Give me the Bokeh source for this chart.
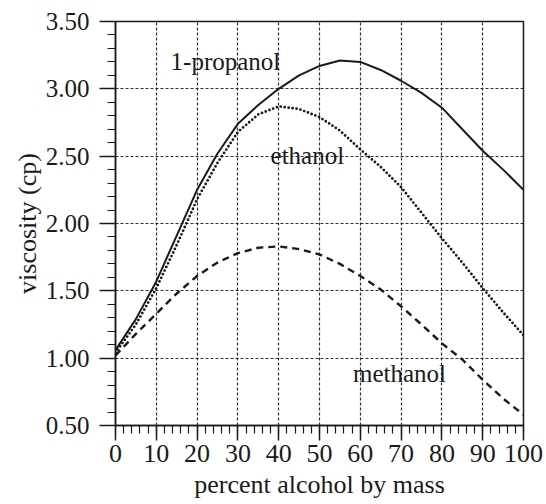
from bokeh.plotting import figure
from bokeh.models import FixedTicker, NumeralTickFormatter, Range1d
from bokeh.core.properties import value
from bokeh.embed import file_html
from bokeh.resources import INLINE

# ---- data ----
pct_alcohol = [0, 5, 10, 15, 20, 25, 30, 35, 40, 45, 50, 55, 60, 65, 70, 75, 80, 85, 90, 95, 100]
propanol = [1.06, 1.29, 1.57, 1.91, 2.25, 2.52, 2.74, 2.88, 3.00, 3.10, 3.17, 3.21, 3.20, 3.14, 3.06, 2.97, 2.86, 2.70, 2.54, 2.40, 2.25]
ethanol = [1.04, 1.25, 1.52, 1.84, 2.18, 2.45, 2.68, 2.81, 2.87, 2.85, 2.79, 2.69, 2.55, 2.42, 2.27, 2.08, 1.89, 1.71, 1.52, 1.34, 1.17]
methanol = [1.02, 1.18, 1.33, 1.48, 1.61, 1.71, 1.78, 1.82, 1.83, 1.81, 1.77, 1.70, 1.61, 1.51, 1.385, 1.25, 1.11, 0.99, 0.84, 0.70, 0.58]

x_ticks = [0, 10, 20, 30, 40, 50, 60, 70, 80, 90, 100]
x_minor = list(range(0, 101, 2))
y_ticks = [0.5, 1.0, 1.5, 2.0, 2.5, 3.0, 3.5]
y_minor = [round(0.5 + 0.1 * i, 2) for i in range(31)]

label_text = ["1-propanol", "ethanol", "methanol"]
label_x = [13.5, 38.0, 58.2]
label_y = [3.20, 2.505, 0.885]

FONT = "Liberation Serif"
INK = "#1a1a1a"

p = figure(width=546, height=504, output_backend="svg", toolbar_location=None,
           x_range=Range1d(0, 100), y_range=Range1d(0.5, 3.5),
           min_border_left=115, min_border_right=23, min_border_top=21, min_border_bottom=79,
           background_fill_color="white", border_fill_color="white")

p.outline_line_color = INK
p.outline_line_width = 1.5

# grids
for g, ticks in ((p.xgrid, x_ticks), (p.ygrid, y_ticks)):
    g.ticker = FixedTicker(ticks=ticks)
    g.grid_line_color = INK
    g.grid_line_dash = "3 2"
    g.grid_line_width = 1.2
    g.grid_line_alpha = 0.9

# x axis
xa = p.xaxis[0]
xa.ticker = FixedTicker(ticks=x_ticks, minor_ticks=x_minor)
xa.axis_label = "percent alcohol by mass"
xa.major_tick_out = 15
xa.major_tick_in = 0
xa.minor_tick_out = 8
xa.minor_tick_in = 0
xa.major_label_standoff = 4
xa.axis_label_standoff = 5
xa.major_label_text_font_size = "26px"
xa.axis_label_text_font_size = "26px"

# y axis
ya = p.yaxis[0]
ya.ticker = FixedTicker(ticks=y_ticks, minor_ticks=y_minor)
ya.formatter = NumeralTickFormatter(format="0.00")
ya.axis_label = "viscosity (cp)"
ya.major_tick_out = 16
ya.major_tick_in = 0
ya.minor_tick_out = 8
ya.minor_tick_in = 0
ya.major_label_standoff = 10
ya.axis_label_standoff = 1
ya.major_label_text_font_size = "25px"
ya.axis_label_text_font_size = "26px"

for ax in (xa, ya):
    ax.axis_line_color = INK
    ax.axis_line_width = 1.5
    ax.major_tick_line_color = INK
    ax.major_tick_line_width = 1.5
    ax.minor_tick_line_color = INK
    ax.minor_tick_line_width = 1.2
    ax.major_label_text_font = FONT
    ax.axis_label_text_font = FONT
    ax.axis_label_text_font_style = "normal"
    ax.major_label_text_color = INK
    ax.axis_label_text_color = INK

# curves
p.line(pct_alcohol, propanol, line_color=INK, line_width=2)
p.line(pct_alcohol, ethanol, line_color=INK, line_width=2.8, line_dash="0 4", line_cap="round")
p.line(pct_alcohol, methanol, line_color=INK, line_width=2.4, line_dash="7 5")

# labels
p.text(x=label_x, y=label_y, text=label_text, text_font=value(FONT),
       text_font_size="25px", text_baseline="middle", text_align="left",
       text_color=INK)

open("out.html", "w").write(file_html(p, INLINE))
